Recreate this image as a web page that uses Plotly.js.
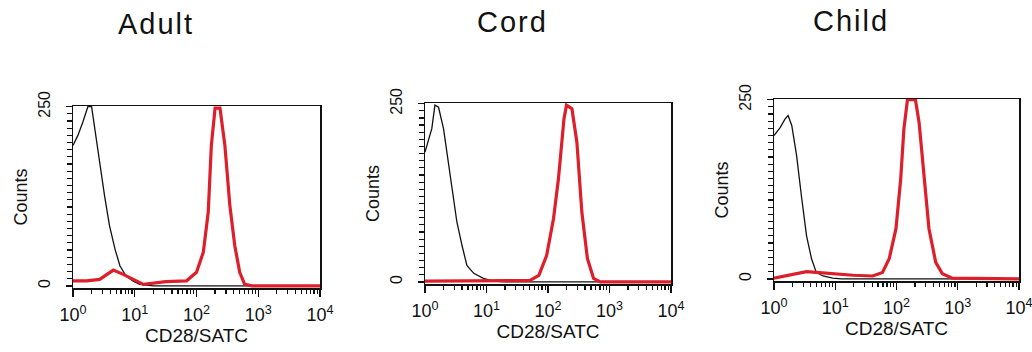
<!DOCTYPE html>
<html>
<head>
<meta charset="utf-8">
<script src="https://cdn.plot.ly/plotly-3.0.1.min.js"></script>
<style>
html,body{margin:0;padding:0;background:#fff;}
#chart{width:1032px;height:352px;}
.annotation-text{letter-spacing:2px;}
</style>
</head>
<body>
<div id="chart"></div>
<script>
// ---------- data ----------
const panelTitles = ["Adult", "Cord", "Child"];
const xTickVals = [1, 10, 100, 1000, 10000];
const xTickText = ["10<sup>0</sup>", "10<sup>1</sup>", "10<sup>2</sup>", "10<sup>3</sup>", "10<sup>4</sup>"];
const xMinorTickVals = [2, 3, 4, 5, 6, 7, 8, 9, 20, 30, 40, 50, 60, 70, 80, 90,
  200, 300, 400, 500, 600, 700, 800, 900, 2000, 3000, 4000, 5000, 6000, 7000, 8000, 9000];
const yTickVals = [0, 250];
const yTickText = ["0", "250"];

// Adult
const adultIsoX = [1.0, 1.2, 1.45, 1.74, 2.0, 2.4, 2.7, 3.24, 3.9, 4.8, 5.75, 7.2, 9.3, 12, 20, 10000];
const adultIsoY = [196, 210, 229, 250, 250, 201, 168, 126, 84, 51, 28, 14, 7, 2, 0, 0];
const adultCd28X = [1, 1.66, 2.7, 4.5, 6.5, 9.3, 13.8, 32, 69, 100, 129, 155, 174, 200, 240, 288, 347, 417, 501, 603, 794, 10000];
const adultCd28Y = [7, 7, 9, 22, 16, 9, 2, 6, 7, 19, 47, 103, 196, 248, 248, 196, 112, 56, 19, 2, 0, 0];

// Cord
const cordIsoX = [1, 1.12, 1.29, 1.45, 1.66, 2.0, 2.4, 2.7, 3.3, 4.0, 4.8, 6.2, 8.9, 12.9, 20, 10000];
const cordIsoY = [182, 196, 215, 248, 245, 215, 168, 131, 84, 51, 23, 12, 5, 1, 0, 0];
const cordCd28X = [1, 51, 71, 95, 123, 148, 182, 200, 245, 295, 355, 437, 550, 708, 10000];
const cordCd28Y = [1, 2, 9, 37, 89, 145, 229, 248, 243, 196, 98, 33, 5, 0, 0];

// Child
const childIsoX = [1, 1.26, 1.51, 1.7, 1.95, 2.34, 2.8, 3.4, 4.1, 4.9, 6.3, 9.1, 12.6, 10000];
const childIsoY = [200, 211, 223, 228, 214, 172, 116, 60, 28, 9, 4, 1, 0, 0];
const childCd28X = [1, 1.8, 3.4, 4.9, 9.1, 19.5, 41, 59, 76, 98, 117, 132, 151, 204, 234, 282, 339, 437, 562, 813, 10000];
const childCd28Y = [1, 5, 10, 9, 7, 5, 4, 9, 28, 70, 139, 209, 250, 250, 218, 139, 70, 23, 7, 1, 0];

const xAxisLabel = "CD28/SATC";
const yAxisLabel = "Counts";

// ---------- chart ----------
const isoSeries = [[adultIsoX, adultIsoY], [cordIsoX, cordIsoY], [childIsoX, childIsoY]];
const cdSeries = [[adultCd28X, adultCd28Y], [cordCd28X, cordCd28Y], [childCd28X, childCd28Y]];

const W = 1032, H = 352;
// panel boxes in pixels: [left, right, top, bottom]
const boxes = [[73, 320, 106, 288], [425, 671, 103, 284], [774, 1019, 99, 281]];
const titlePos = [[156, 24], [512, 22], [851, 21]];

const font = "Liberation Sans, Arial, Helvetica, sans-serif";
const traces = [];
const layout = {
  width: W, height: H,
  margin: {l: 0, r: 0, t: 0, b: 0},
  paper_bgcolor: "#fff", plot_bgcolor: "#fff",
  showlegend: false,
  font: {family: font, color: "#111"},
  annotations: []
};

boxes.forEach((b, i) => {
  const sfx = i === 0 ? "" : String(i + 1);
  const xa = "x" + sfx, ya = "y" + sfx;
  traces.push({
    type: "scatter", mode: "lines", name: "Isotype",
    x: isoSeries[i][0], y: isoSeries[i][1],
    xaxis: xa, yaxis: ya,
    line: {color: "#111", width: 1.3}
  });
  traces.push({
    type: "scatter", mode: "lines", name: "CD28",
    x: cdSeries[i][0], y: cdSeries[i][1],
    xaxis: xa, yaxis: ya,
    line: {color: "#dc1f2a", width: 3.2}
  });
  layout["xaxis" + sfx] = {
    type: "log", range: [0, 4],
    domain: [b[0] / W, b[1] / W],
    anchor: ya,
    showline: true, mirror: true, linecolor: "#111", linewidth: 1.5,
    showgrid: false, zeroline: false,
    tickmode: "array", tickvals: xTickVals, ticktext: xTickText,
    ticks: "outside", ticklen: 7, tickwidth: 1.4, tickcolor: "#111",
    minor: {tickmode: "array", tickvals: xMinorTickVals, ticks: "outside", ticklen: 4,
            tickcolor: "#111", tickwidth: 1.2, showgrid: false},
    ticklabelstandoff: 3,
    ticklabeloverflow: "allow",
    tickfont: {size: 18, family: font, color: "#111"},
    title: {text: xAxisLabel, font: {size: 19, family: font, color: "#111"}, standoff: 1},
    automargin: false
  };
  layout["yaxis" + sfx] = {
    range: [-3, 251],
    domain: [1 - b[3] / H, 1 - b[2] / H],
    anchor: xa,
    showline: true, mirror: true, linecolor: "#111", linewidth: 1.5,
    showgrid: false, zeroline: false,
    tickmode: "array", tickvals: yTickVals, ticktext: yTickText,
    ticks: "outside", ticklen: 6, tickwidth: 1.4, tickcolor: "#111",
    minor: {tickmode: "linear", tick0: 0, dtick: 10, ticks: "outside", ticklen: 5,
            tickcolor: "#111", tickwidth: 1.2, showgrid: false},
    tickangle: -90,
    ticklabelstandoff: 9,
    tickfont: {size: 16, family: font, color: "#111"},
    title: {text: yAxisLabel, font: {size: 18, family: font, color: "#111"}, standoff: 4},
    automargin: false
  };
  layout.annotations.push({
    text: panelTitles[i], showarrow: false,
    xref: "paper", yref: "paper",
    x: titlePos[i][0] / W, y: 1 - titlePos[i][1] / H,
    xanchor: "center", yanchor: "middle",
    font: {size: 29, family: font, color: "#111"}
  });
});

Plotly.newPlot("chart", traces, layout, {staticPlot: true, displayModeBar: false});
</script>
</body>
</html>
